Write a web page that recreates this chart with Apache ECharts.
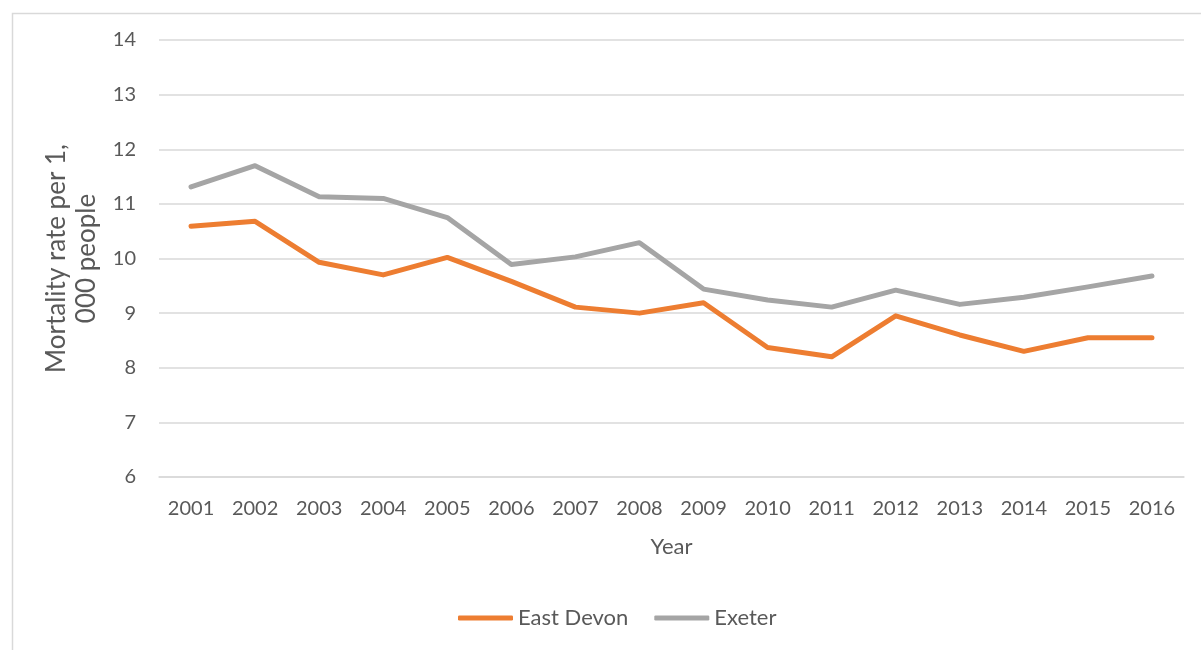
<!DOCTYPE html>
<html>
<head>
<meta charset="utf-8">
<script src="https://cdn.jsdelivr.net/npm/echarts@6/dist/echarts.min.js"></script>
<style>
html,body{margin:0;padding:0;background:#fff;}
#c{width:1201px;height:650px;}
</style>
</head>
<body>
<div id="c"></div>
<script>
const years = ['2001','2002','2003','2004','2005','2006','2007','2008','2009','2010','2011','2012','2013','2014','2015','2016'];
const eastDevon = [10.59, 10.68, 9.93, 9.70, 10.02, 9.58, 9.11, 9.00, 9.19, 8.37, 8.20, 8.95, 8.60, 8.30, 8.55, 8.55];
const exeter = [11.31, 11.70, 11.13, 11.10, 10.75, 9.89, 10.03, 10.29, 9.44, 9.24, 9.11, 9.42, 9.16, 9.29, 9.48, 9.68];
const yTicks = [6, 14, 1];

const chart = echarts.init(document.getElementById('c'), null, {renderer: 'canvas'});
const font = 'Lato, "Open Sans", sans-serif';
const txt = '#595959';
chart.setOption({
  animation: false,
  backgroundColor: '#fff',
  graphic: [{
    type: 'rect', left: 10, top: 11, silent: true,
    shape: {width: 1300, height: 700},
    style: {fill: 'none', stroke: '#d9d9d9', lineWidth: 1.5}
  }],
  grid: {left: 159, right: 17, top: 40, bottom: 173},
  legend: {
    bottom: 16, left: 453,
    icon: 'roundRect', itemWidth: 55, itemHeight: 5, itemGap: 26,
    textStyle: {fontFamily: font, fontSize: 22, color: txt},
    data: ['East Devon', 'Exeter']
  },
  xAxis: {
    type: 'category', data: years, boundaryGap: true,
    name: 'Year', nameLocation: 'middle', nameGap: 59,
    nameTextStyle: {fontFamily: font, fontSize: 22, color: txt},
    axisLine: {show: true, lineStyle: {color: '#d9d9d9', width: 1.5}},
    axisTick: {show: false},
    axisLabel: {fontFamily: font, fontSize: 20, color: txt, margin: 22}
  },
  yAxis: {
    type: 'value', min: yTicks[0], max: yTicks[1], interval: yTicks[2],
    name: 'Mortality rate per 1,\n000 people', nameLocation: 'middle', nameGap: 56, nameRotate: 90,
    nameTextStyle: {fontFamily: font, fontSize: 26, color: txt, lineHeight: 30},
    axisLine: {show: false}, axisTick: {show: false},
    axisLabel: {fontFamily: font, fontSize: 20, color: txt, margin: 23},
    splitLine: {lineStyle: {color: '#d9d9d9', width: 1.5}}
  },
  series: [
    {name: 'East Devon', type: 'line', data: eastDevon, symbol: 'none', color: '#ED7D31',
     lineStyle: {width: 5, cap: 'round', join: 'round', color: '#ED7D31'}},
    {name: 'Exeter', type: 'line', data: exeter, symbol: 'none', color: '#A5A5A5',
     lineStyle: {width: 5, cap: 'round', join: 'round', color: '#A5A5A5'}}
  ]
});
</script>
</body>
</html>
